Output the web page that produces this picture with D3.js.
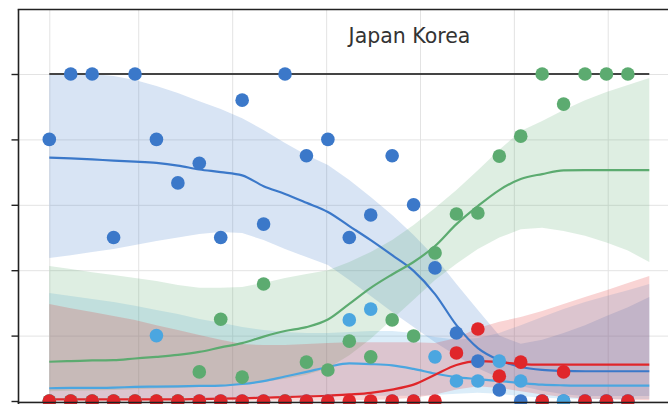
<!DOCTYPE html>
<html>
<head>
<meta charset="utf-8">
<script src="https://cdn.jsdelivr.net/npm/d3@7/dist/d3.min.js"></script>
<style>
  body { margin: 0; background: #fff; }
  svg { display: block; }
</style>
</head>
<body>
<svg id="chart" width="668" height="404"></svg>
<script>
// Observed shares per period (28 periods) for each category
const periods = d3.range(28);
const blueObs = [0.80, 1.00, 1.00, 0.50, 1.00, 0.80, 0.667, 0.727, 0.50, 0.92, 0.541, 1.00, 0.75, 0.80,
                 0.50, 0.569, 0.75, 0.60, 0.407, 0.208, 0.122, 0.034, 0.00, 0.00, 0.00, 0.00, 0.00, 0.00];
const lightBlueObs = [0, 0, 0, 0, 0, 0.20, 0, 0, 0, 0, 0, 0, 0, 0,
                      0.248, 0.281, 0, 0, 0.135, 0.061, 0.061, 0.122, 0.061, 0, 0, 0, 0, 0];
const greenObs = [0, 0, 0, 0, 0, 0, 0, 0.089, 0.25, 0.073, 0.358, 0, 0.119, 0.095,
                  0.183, 0.135, 0.248, 0.199, 0.453, 0.572, 0.575, 0.749, 0.81, 1.00, 0.908, 1.00, 1.00, 1.00];
const redObs = [0, 0, 0, 0, 0, 0, 0, 0, 0, 0, 0, 0, 0, 0,
                0, 0, 0, 0, 0, 0.147, 0.22, 0.076, 0.119, 0, 0.089, 0, 0, 0];

// Model fit on 29 grid points: posterior mean and interval bounds
const grid = d3.range(29);
const blueMean = [0.744, 0.742, 0.739, 0.735, 0.732, 0.728, 0.72, 0.708, 0.70, 0.69, 0.657, 0.633, 0.606, 0.578,
                  0.535, 0.492, 0.446, 0.398, 0.327, 0.232, 0.162, 0.125, 0.104, 0.095, 0.092, 0.091, 0.091, 0.091, 0.091];
const blueLow = [0.437, 0.446, 0.456, 0.465, 0.477, 0.489, 0.50, 0.511, 0.517, 0.514, 0.492, 0.465, 0.44, 0.416,
                 0.37, 0.321, 0.272, 0.226, 0.18, 0.138, 0.10, 0.07, 0.046, 0.031, 0.021, 0.015, 0.015, 0.015, 0.015];
const blueHigh = [1.0, 1.0, 1.0, 0.994, 0.982, 0.963, 0.942, 0.917, 0.893, 0.865, 0.829, 0.789, 0.752, 0.722,
                  0.676, 0.624, 0.569, 0.508, 0.44, 0.358, 0.278, 0.20, 0.175, 0.187, 0.208, 0.232, 0.26, 0.287, 0.318];

const lightBlueMean = [0.039, 0.040, 0.040, 0.041, 0.043, 0.044, 0.045, 0.046, 0.047, 0.052, 0.061, 0.075, 0.089, 0.104,
                       0.115, 0.113, 0.109, 0.098, 0.084, 0.073, 0.067, 0.061, 0.055, 0.05, 0.048, 0.047, 0.047, 0.047, 0.047];
const lightBlueLow = [0.006, 0.006, 0.006, 0.006, 0.006, 0.006, 0.006, 0.006, 0.006, 0.006, 0.008, 0.01, 0.012, 0.014,
                      0.016, 0.016, 0.016, 0.016, 0.018, 0.022, 0.025, 0.022, 0.015, 0.01, 0.008, 0.006, 0.006, 0.006, 0.006];
const lightBlueHigh = [0.33, 0.321, 0.312, 0.303, 0.291, 0.278, 0.266, 0.251, 0.239, 0.226, 0.217, 0.211, 0.208, 0.208,
                       0.211, 0.214, 0.214, 0.208, 0.196, 0.187, 0.193, 0.208, 0.232, 0.257, 0.281, 0.303, 0.321, 0.339, 0.358];

const greenMean = [0.120, 0.122, 0.124, 0.125, 0.13, 0.135, 0.141, 0.15, 0.164, 0.177, 0.197, 0.214, 0.226, 0.249,
                   0.297, 0.346, 0.387, 0.425, 0.474, 0.541, 0.596, 0.645, 0.679, 0.694, 0.705, 0.706, 0.706, 0.706, 0.706];
const greenLow = [0.03, 0.031, 0.032, 0.034, 0.036, 0.038, 0.04, 0.043, 0.046, 0.05, 0.058, 0.068, 0.08, 0.10,
                  0.14, 0.19, 0.25, 0.31, 0.37, 0.42, 0.465, 0.50, 0.525, 0.53, 0.52, 0.505, 0.485, 0.46, 0.425];
const greenHigh = [0.413, 0.404, 0.394, 0.385, 0.376, 0.367, 0.355, 0.346, 0.346, 0.349, 0.361, 0.376, 0.388, 0.40,
                   0.425, 0.456, 0.492, 0.538, 0.59, 0.645, 0.706, 0.768, 0.826, 0.856, 0.89, 0.92, 0.945, 0.966, 0.988];

const redMean = [0.005, 0.005, 0.005, 0.005, 0.005, 0.005, 0.005, 0.006, 0.007, 0.008, 0.01, 0.012, 0.014, 0.016,
                 0.02, 0.025, 0.035, 0.05, 0.08, 0.11, 0.122, 0.119, 0.113, 0.111, 0.111, 0.111, 0.111, 0.111, 0.111];
const redLow = [0.001, 0.001, 0.001, 0.001, 0.001, 0.001, 0.001, 0.001, 0.001, 0.001, 0.001, 0.001, 0.001, 0.001,
                0.002, 0.003, 0.005, 0.01, 0.02, 0.035, 0.045, 0.04, 0.03, 0.02, 0.012, 0.008, 0.005, 0.003, 0.002];
const redHigh = [0.297, 0.284, 0.272, 0.26, 0.248, 0.232, 0.217, 0.202, 0.187, 0.174, 0.171, 0.171, 0.174, 0.177,
                 0.18, 0.18, 0.18, 0.18, 0.177, 0.193, 0.223, 0.242, 0.257, 0.275, 0.297, 0.318, 0.339, 0.361, 0.382];

const yTicks = [0, 0.2, 0.4, 0.6, 0.8, 1.0];
const xGridTicks = [0, 4.15, 8.535, 12.92, 17.30, 21.68, 26.06];
const titleText = "Japan Korea";

const series = [
  { name: "blue",      color: "#3b78c9", obs: blueObs,      mean: blueMean,      low: blueLow,      high: blueHigh },
  { name: "lightblue", color: "#4ba6e0", obs: lightBlueObs, mean: lightBlueMean, low: lightBlueLow, high: lightBlueHigh },
  { name: "green",     color: "#5cab70", obs: greenObs,     mean: greenMean,     low: greenLow,     high: greenHigh },
  { name: "red",       color: "#e0262a", obs: redObs,       mean: redMean,       low: redLow,       high: redHigh }
];

(function draw() {
  const svg = d3.select("#chart");
  const W = 668, H = 404;
  const axLeft = 18.5, axTop = 9.5, axBottom = 402.5;

  const x = d3.scaleLinear().domain([0, 28]).range([49.3, 649.3]);
  const y = d3.scaleLinear().domain([0, 1]).range([401, 74]);

  // grid
  const gridG = svg.append("g");
  gridG.append("g")
    .attr("transform", `translate(0,${axBottom})`)
    .call(d3.axisBottom(x).tickValues(xGridTicks).tickSize(-(axBottom - axTop)).tickFormat(""))
    .call(g => g.select(".domain").remove())
    .call(g => g.selectAll("line").attr("stroke", "#e3e3e3").attr("stroke-width", 1));
  gridG.append("g")
    .attr("transform", `translate(${axLeft},0)`)
    .call(d3.axisLeft(y).tickValues(yTicks).tickSize(-(W - axLeft)).tickFormat(""))
    .call(g => g.select(".domain").remove())
    .call(g => g.selectAll("line").attr("stroke", "#e3e3e3").attr("stroke-width", 1));

  // credible bands
  const area = (s) => d3.area()
    .x((d, i) => x(grid[i]))
    .y0((d, i) => y(s.low[i]))
    .y1((d, i) => y(s.high[i]))
    .curve(d3.curveLinear);

  series.forEach(s => {
    svg.append("path")
      .datum(grid)
      .attr("d", area(s))
      .attr("fill", s.color)
      .attr("fill-opacity", 0.2)
      .attr("stroke", "none");
  });

  // reference line at share = 1
  svg.append("line")
    .attr("x1", x(0)).attr("x2", x(28))
    .attr("y1", y(1)).attr("y2", y(1))
    .attr("stroke", "#444").attr("stroke-width", 2);

  // mean lines
  series.forEach(s => {
    svg.append("path")
      .datum(grid)
      .attr("d", d3.line().x((d, i) => x(grid[i])).y((d, i) => y(s.mean[i])).curve(d3.curveMonotoneX))
      .attr("fill", "none")
      .attr("stroke", s.color)
      .attr("stroke-width", 2.2);
  });

  // observed shares
  series.forEach(s => {
    svg.append("g").selectAll("circle")
      .data(periods)
      .join("circle")
      .attr("cx", d => x(d))
      .attr("cy", d => y(s.obs[d]))
      .attr("r", 6.8)
      .attr("fill", s.color);
  });

  // axes frame
  const frame = svg.append("g").attr("stroke", "#222").attr("stroke-width", 1.6);
  frame.append("line").attr("x1", axLeft - 0.8).attr("x2", W).attr("y1", axTop).attr("y2", axTop);
  frame.append("line").attr("x1", axLeft).attr("x2", axLeft).attr("y1", axTop).attr("y2", H);
  frame.append("line").attr("x1", axLeft - 0.8).attr("x2", W).attr("y1", axBottom).attr("y2", axBottom);

  svg.append("g")
    .attr("transform", `translate(${axLeft},0)`)
    .call(d3.axisLeft(y).tickValues(yTicks).tickSize(7).tickFormat(""))
    .call(g => g.select(".domain").remove())
    .call(g => g.selectAll("line").attr("stroke", "#222").attr("stroke-width", 1.4));

  svg.append("text")
    .attr("x", 409.5).attr("y", 43)
    .attr("text-anchor", "middle")
    .attr("font-family", "DejaVu Sans, sans-serif")
    .attr("font-size", 20.5)
    .attr("fill", "#333")
    .text(titleText);
})();
</script>
</body>
</html>
